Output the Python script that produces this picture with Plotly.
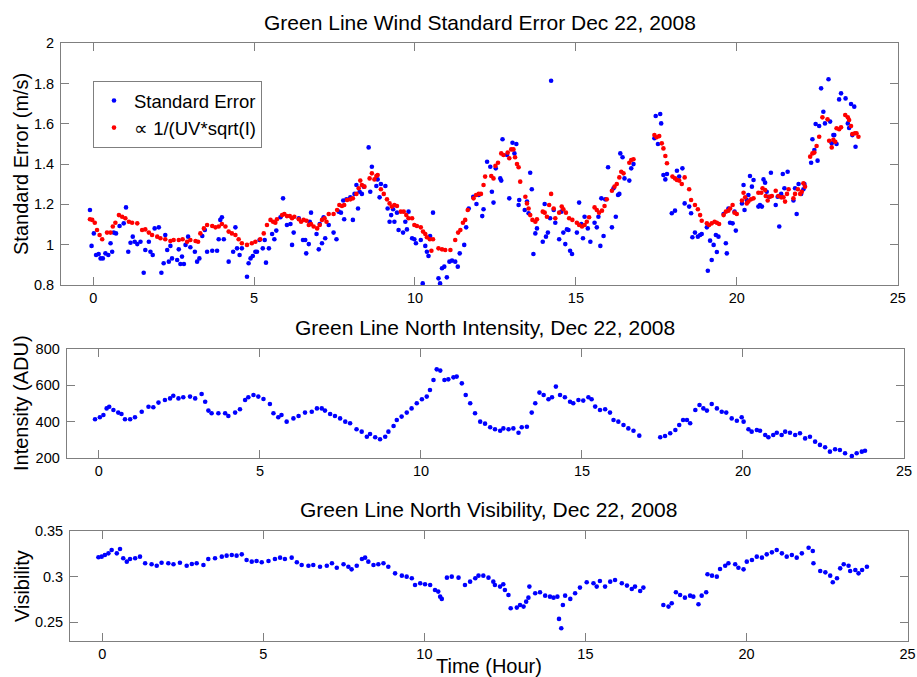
import plotly.graph_objects as go

# ---------------- data ----------------
se_hour = [-0.10, -0.05, 0.02, 0.09, 0.17, 0.23, 0.30, 0.38, 0.47, 0.54, 0.59, 0.64, 0.71, 0.82, 0.95, 1.02, 1.09, 1.16, 1.23, 1.29,
           1.37, 1.47, 1.57, 1.62, 1.73, 1.78, 1.85, 1.91, 2.04, 2.12, 2.19, 2.24, 2.30, 2.35, 2.40, 2.45, 2.61, 2.66, 2.71, 2.76,
           2.82, 2.87, 2.95, 3.02, 3.16, 3.23, 3.30, 3.39, 3.47, 3.54, 3.70, 3.85, 3.90, 3.95, 4.00, 4.06, 4.21, 4.35, 4.42, 4.47,
           4.55, 4.62, 4.78, 4.83, 4.89, 4.96, 5.04, 5.09, 5.17, 5.27, 5.33, 5.37, 5.46,
           5.56, 5.63, 5.69, 5.82, 5.90, 6.02, 6.13, 6.18, 6.23, 6.39, 6.52, 6.59, 6.62, 6.70, 6.73, 6.77, 6.94, 7.01, 7.04, 7.11,
           7.16, 7.21, 7.32, 7.47, 7.56, 7.63, 7.70, 7.77, 7.80, 7.87, 7.99, 8.07, 8.12, 8.18, 8.23, 8.28, 8.35, 8.41, 8.56, 8.61,
           8.66, 8.80, 8.84, 8.90, 8.94, 9.08, 9.15, 9.21, 9.26, 9.32, 9.36, 9.44, 9.49, 9.63, 9.70, 9.75, 9.80, 9.91, 9.98, 10.03,
           10.18, 10.24, 10.32, 10.37, 10.42, 10.47, 10.56, 10.73, 10.78, 10.84, 10.91, 10.99, 11.07, 11.15, 11.25, 11.33, 11.39,
           11.53, 11.59, 11.67, 11.81, 11.91, 11.98, 12.09, 12.13,
           12.24, 12.34, 12.39, 12.44, 12.51, 12.65, 12.68, 12.72, 12.86, 12.93, 13.03, 13.09, 13.15, 13.22, 13.24, 13.41, 13.48,
           13.53, 13.58, 13.63, 13.68, 13.74, 13.79, 13.97, 14.03, 14.07, 14.13, 14.20, 14.23, 14.31, 14.36, 14.48, 14.55, 14.61,
           14.67, 14.72, 14.77, 14.82, 14.88, 15.03, 15.10, 15.17, 15.22, 15.27, 15.37, 15.45, 15.58, 15.65, 15.70, 15.76, 15.79,
           15.86, 15.91, 16.00, 16.12, 16.17, 16.24, 16.31, 16.35, 16.38, 16.45, 16.51, 16.66, 16.72, 16.79,
           17.44, 17.48, 17.55, 17.62, 17.65, 17.72, 17.78, 17.83, 17.98, 18.08, 18.14, 18.21, 18.31, 18.38, 18.52, 18.58, 18.62,
           18.70, 18.79, 18.86, 18.91, 19.07, 19.10, 19.17, 19.22, 19.28, 19.35, 19.38, 19.43, 19.59, 19.66, 19.69, 19.74, 19.79,
           19.87, 19.93, 19.97, 20.16, 20.21, 20.24, 20.31, 20.36, 20.41, 20.47, 20.52, 20.67, 20.72, 20.78, 20.83, 20.88, 20.93,
           21.00, 21.06, 21.21, 21.27, 21.32, 21.38, 21.43, 21.48, 21.58, 21.76, 21.81, 21.86, 21.92, 22.00, 22.07, 22.10, 22.31,
           22.35, 22.41, 22.45, 22.51, 22.56, 22.62, 22.69, 22.74, 22.85, 22.90, 22.95, 23.00, 23.03, 23.10, 23.18, 23.24, 23.38,
           23.45, 23.49, 23.55, 23.59, 23.65, 23.69]
se_val = [1.172, 0.994, 1.056, 0.949, 0.954, 0.932, 0.932, 0.957, 0.949, 1.007, 0.965, 1.060, 1.056, 1.093, 1.106, 1.185, 0.965, 1.010, 1.040, 1.015,
          1.003, 1.015, 0.861, 0.974, 1.015, 0.965, 0.949, 1.081, 1.086, 0.861, 0.908, 1.048, 0.974, 0.916, 0.994, 0.932, 0.924, 0.977, 0.904, 0.941,
          0.904, 0.999, 1.040, 0.987, 0.965, 0.916, 0.932, 1.043, 1.073, 0.965, 0.970, 0.970, 1.027, 1.123, 1.136, 1.027, 0.916, 0.965, 1.086, 0.982,
          0.949, 0.982, 0.841, 0.908, 0.932, 0.944, 0.965, 0.965, 1.023, 0.982, 1.023, 0.911, 0.982,
          1.053, 1.027, 1.070, 1.136, 1.230, 1.098, 1.103, 0.999, 1.060, 1.131, 1.023, 1.023, 0.957, 1.003, 1.114, 1.159, 1.053, 0.977, 1.103, 1.007,
          1.136, 1.032, 1.098, 1.060, 1.027, 1.164, 1.159, 1.219, 1.126, 1.225, 1.235, 1.123, 1.252, 1.296, 1.180, 1.263, 1.252, 1.288, 1.483, 1.263,
          1.387, 1.291, 1.324, 1.235, 1.301, 1.291, 1.180, 1.114, 1.147, 1.176, 1.114, 1.159, 1.073, 1.060, 1.114, 1.076, 1.164, 1.032, 1.027, 1.007,
          1.023, 0.808, 0.994, 0.965, 0.944, 1.043, 1.159, 0.833, 0.808, 0.883, 0.891, 0.838, 0.916, 0.921, 0.916, 0.891, 0.957,
          0.999, 1.086, 1.180, 1.238, 1.202, 1.247, 1.142, 1.176,
          1.412, 1.387, 1.263, 1.209, 1.379, 1.329, 1.318, 1.523, 1.445, 1.230, 1.506, 1.453, 1.500, 1.197, 1.222, 1.172, 1.214,
          1.156, 1.357, 1.275, 0.954, 1.056, 1.081, 1.015, 1.202, 1.040, 1.060, 1.131, 1.814, 1.172, 1.109, 1.027, 1.164, 1.060,
          1.003, 1.076, 1.073, 0.970, 0.954, 1.060, 1.209, 1.103, 1.032, 1.139, 1.081, 1.015, 1.109, 1.086, 1.139, 0.994, 1.230,
          1.043, 1.225, 1.384, 1.086, 1.280, 1.139, 1.247, 1.252, 1.453, 1.434, 1.329, 1.318, 1.379, 1.400,
          1.528, 1.639, 1.500, 1.649, 1.602, 1.346, 1.324, 1.351, 1.156, 1.169, 1.367, 1.338, 1.379, 1.205, 1.189, 1.156, 1.037,
          1.060, 1.040, 1.048, 1.053, 1.086, 0.871, 1.020, 0.924, 0.999, 1.048, 0.964, 1.040, 1.152, 1.007, 0.957, 1.180, 1.109,
          1.106, 1.164, 1.070, 1.205, 1.296, 1.172, 1.222, 1.247, 1.341, 1.288, 1.321, 1.189, 1.197, 1.189, 1.324, 1.308, 1.263,
          1.238, 1.357, 1.197, 1.238, 1.090, 1.252, 1.351, 1.280, 1.362, 1.219, 1.280, 1.152, 1.301, 1.252, 1.275, 1.301, 1.407,
          1.523, 1.470, 1.599, 1.417, 1.589, 1.776, 1.660, 1.602, 1.821, 1.611, 1.503, 1.544, 1.544, 1.500, 1.721, 1.751, 1.726,
          1.602, 1.579, 1.698, 1.544, 1.685, 1.486]

prop_hour = [-0.10, -0.03, 0.05, 0.12, 0.20, 0.28, 0.43, 0.54, 0.61, 0.69, 0.80, 0.90, 1.00, 1.11, 1.21, 1.37, 1.52, 1.62, 1.73, 1.83,
             1.99, 2.09, 2.24, 2.40, 2.50, 2.66, 2.78, 2.92, 3.02, 3.18, 3.26, 3.33, 3.44, 3.54, 3.70, 3.80, 3.90, 4.00, 4.11, 4.21,
             4.31, 4.42, 4.52, 4.62, 4.78, 4.93, 5.04, 5.19, 5.30, 5.40,
             5.51, 5.59, 5.66, 5.71, 5.87, 5.94, 6.02, 6.11, 6.18, 6.25, 6.39, 6.46, 6.54, 6.63, 6.70, 6.77, 6.85, 6.96, 7.04, 7.11,
             7.19, 7.25, 7.32, 7.47, 7.58, 7.65, 7.73, 7.80, 7.89, 7.99, 8.07, 8.18, 8.25, 8.30, 8.35, 8.43, 8.59, 8.66, 8.74, 8.80,
             8.84, 8.94, 9.03, 9.13, 9.21, 9.28, 9.36, 9.44, 9.56, 9.65, 9.73, 9.80, 9.91, 9.98, 10.06, 10.18, 10.25, 10.32, 10.37,
             10.46, 10.51, 10.56, 10.73, 10.84, 10.94, 11.10, 11.25, 11.34, 11.41, 11.49, 11.56, 11.64, 11.82, 11.90, 11.98, 12.05, 12.13,
             12.18, 12.37, 12.44, 12.50, 12.58, 12.68, 12.75, 12.88, 12.93, 12.99, 13.06, 13.11, 13.17, 13.22, 13.27, 13.43, 13.48,
             13.53, 13.58, 13.65, 13.74, 13.79, 13.97, 14.03, 14.10, 14.17, 14.23, 14.31, 14.36, 14.48, 14.56, 14.61, 14.69, 14.79,
             14.89, 15.03, 15.10, 15.19, 15.27, 15.34, 15.41, 15.58, 15.65, 15.72, 15.81, 15.89, 15.96, 16.12, 16.20, 16.27, 16.35,
             16.41, 16.48, 16.66, 16.72, 16.79,
             17.44, 17.51, 17.59, 17.67, 17.72, 17.78, 17.83, 18.00, 18.08, 18.14, 18.21, 18.29, 18.38, 18.52, 18.58,
             18.70, 18.79, 18.86, 18.91, 19.07, 19.14, 19.22, 19.31, 19.38, 19.45, 19.59, 19.66, 19.74, 19.79, 19.87, 19.93, 20.00,
             20.16, 20.21, 20.26, 20.31, 20.36, 20.44, 20.52, 20.67, 20.76, 20.80, 20.88, 20.90, 20.96, 21.03, 21.09, 21.21, 21.29,
             21.38, 21.45, 21.50, 21.56, 21.61, 21.76, 21.81, 21.90, 21.97, 22.02, 22.07, 22.12, 22.28, 22.35, 22.41, 22.48, 22.56,
             22.66, 22.82, 22.87, 22.95, 23.00, 23.06, 23.10, 23.18, 23.24, 23.37, 23.45, 23.49, 23.55, 23.59, 23.67, 23.72, 23.78]
prop_val = [1.126, 1.123, 1.109, 1.073, 1.048, 1.027, 1.060, 1.060, 1.090, 1.109, 1.147, 1.139, 1.131, 1.114, 1.109, 1.106, 1.073, 1.076, 1.060, 1.048,
            1.040, 1.032, 1.027, 1.018, 1.023, 1.023, 1.027, 1.015, 1.023, 1.018, 1.015, 1.056, 1.081, 1.098, 1.093, 1.086, 1.090, 1.103, 1.090, 1.065,
            1.056, 1.048, 1.027, 1.007, 0.999, 1.007, 1.015, 1.027, 1.056, 1.098,
            1.123, 1.114, 1.109, 1.126, 1.147, 1.152, 1.142, 1.142, 1.131, 1.139, 1.126, 1.114, 1.123, 1.119, 1.098, 1.103, 1.090, 1.081, 1.098, 1.123,
            1.131, 1.114, 1.152, 1.152, 1.172, 1.197, 1.192, 1.197, 1.222, 1.225, 1.230, 1.252, 1.280, 1.318, 1.296, 1.288, 1.329, 1.354, 1.324, 1.341,
            1.346, 1.275, 1.252, 1.225, 1.205, 1.189, 1.197, 1.192, 1.164, 1.164, 1.147, 1.131, 1.131, 1.098, 1.093, 1.086, 1.065, 1.053, 1.037,
            1.027, 0.970, 1.027, 0.982, 0.977, 0.974, 0.974, 1.023, 1.060, 1.073, 1.109, 1.123, 1.172, 1.230, 1.247, 1.252, 1.252, 1.296,
            1.338, 1.341, 1.329, 1.391, 1.407, 1.453, 1.445, 1.457, 1.429, 1.473, 1.473, 1.434, 1.400, 1.384, 1.313, 1.238, 1.205,
            1.180, 1.147, 1.123, 1.114, 1.126, 1.164, 1.159, 1.139, 1.197, 1.252, 1.180, 1.131, 1.159, 1.189, 1.176, 1.159, 1.131,
            1.123, 1.109, 1.098, 1.090, 1.098, 1.114, 1.136, 1.185, 1.172, 1.159, 1.169, 1.192, 1.225, 1.268, 1.288, 1.301, 1.334,
            1.362, 1.354, 1.407, 1.420, 1.424,
            1.544, 1.533, 1.539, 1.503, 1.478, 1.440, 1.404, 1.338, 1.329, 1.321, 1.318, 1.301, 1.334, 1.275, 1.222,
            1.197, 1.176, 1.147, 1.119, 1.106, 1.098, 1.106, 1.114, 1.109, 1.103, 1.147, 1.164, 1.169, 1.180, 1.197, 1.159, 1.152,
            1.219, 1.258, 1.235, 1.205, 1.214, 1.225, 1.230, 1.258, 1.258, 1.280, 1.271, 1.242, 1.219, 1.238, 1.242, 1.268, 1.242,
            1.235, 1.235, 1.214, 1.252, 1.275, 1.230, 1.252, 1.275, 1.252, 1.263, 1.305, 1.288, 1.437, 1.453, 1.457, 1.490, 1.536,
            1.632, 1.622, 1.516, 1.483, 1.520, 1.511, 1.578, 1.573, 1.583, 1.644, 1.632, 1.619, 1.589, 1.549, 1.553, 1.553, 1.536]

int_hour = [-0.12, 0.03, 0.14, 0.24, 0.32, 0.45, 0.60, 0.70, 0.81, 0.97, 1.12, 1.33, 1.54, 1.69, 1.85, 2.05, 2.21, 2.31, 2.47, 2.62,
            2.83, 2.99, 3.19, 3.30, 3.40, 3.50, 3.71, 3.92, 4.02, 4.23, 4.38, 4.54, 4.64, 4.80, 4.95, 5.11, 5.31, 5.42, 5.57, 5.67,
            5.83, 6.04, 6.20, 6.40, 6.61, 6.77, 6.92, 7.02, 7.18, 7.33, 7.49, 7.65, 7.80, 8.00, 8.16, 8.32, 8.42, 8.58, 8.73, 8.89,
            8.99, 9.15, 9.25, 9.40, 9.56, 9.71, 9.87, 10.03, 10.18, 10.28, 10.39, 10.49, 10.60, 10.73, 10.85, 11.01, 11.11, 11.27,
            11.39, 11.53, 11.68, 11.84, 11.99, 12.15, 12.30, 12.46, 12.56, 12.72, 12.87, 13.03, 13.13, 13.29, 13.44, 13.55, 13.68,
            13.81, 13.96, 14.07, 14.19, 14.32, 14.47, 14.63, 14.73, 14.89, 15.04, 15.20, 15.30, 15.41, 15.56, 15.72, 15.87, 15.98,
            16.13, 16.29, 16.44, 16.60, 16.78,
            17.43, 17.58, 17.74, 17.90, 18.02, 18.14, 18.26, 18.36, 18.52, 18.65, 18.77, 18.88, 19.03, 19.19, 19.34, 19.48, 19.65,
            19.81, 19.96, 20.02, 20.17, 20.27, 20.43, 20.53, 20.69, 20.79, 20.94, 21.05, 21.20, 21.31, 21.46, 21.62, 21.77, 21.93,
            22.08, 22.24, 22.39, 22.55, 22.70, 22.86, 23.01, 23.17, 23.38, 23.53, 23.69, 23.79]
int_val = [413, 424, 437, 473, 482, 464, 450, 442, 413, 413, 424, 455, 482, 479, 505, 519, 528, 543, 528, 534,
           538, 528, 552, 510, 461, 446, 446, 446, 431, 450, 468, 519, 534, 547, 538, 525, 497, 446, 424, 437,
           400, 418, 431, 450, 455, 473, 473, 461, 442, 431, 418, 400, 391, 358, 345, 317, 332, 314, 303, 317,
           345, 376, 409, 428, 450, 473, 501, 523, 538, 574, 629, 688, 681, 629, 633, 644, 648, 611,
           547, 501, 446, 400, 389, 369, 358, 350, 363, 358, 363, 339, 369, 372, 450, 501, 560,
           547, 523, 534, 593, 547, 534, 510, 501, 519, 516, 534, 523, 483, 464, 468, 450, 409,
           400, 382, 363, 350, 323,
           314, 321, 336, 354, 382, 409, 409, 391, 464, 492, 473, 461, 497, 473, 455, 450, 418,
           405, 424, 400, 358, 345, 354, 350, 327, 314, 327, 339, 327, 345, 339, 327, 336, 308,
           317, 290, 272, 259, 235, 248, 244, 226, 211, 226, 235, 240]

vis_hour = [-0.12, -0.02, 0.08, 0.19, 0.29, 0.45, 0.55, 0.65, 0.76, 0.86, 1.02, 1.17, 1.33, 1.53, 1.69, 1.84, 2.05, 2.21, 2.41, 2.62,
            2.78, 2.93, 3.14, 3.29, 3.50, 3.71, 3.86, 4.02, 4.17, 4.33, 4.48, 4.64, 4.79, 4.95, 5.16, 5.36, 5.52, 5.67, 5.88, 6.04,
            6.19, 6.40, 6.55, 6.76, 6.97, 7.13, 7.28, 7.49, 7.64, 7.74, 7.90, 8.06, 8.16, 8.26, 8.42, 8.57, 8.73, 8.88, 9.09, 9.30,
            9.45, 9.61, 9.71, 9.87, 10.02, 10.18, 10.33, 10.43, 10.49, 10.54, 10.70, 10.85, 11.06, 11.26, 11.42, 11.58, 11.68,
            11.83, 11.99, 12.14, 12.19, 12.35, 12.45, 12.50, 12.61, 12.68, 12.87, 12.97, 13.08, 13.16, 13.23, 13.26, 13.44, 13.59,
            13.75, 13.90, 14.01, 14.13, 14.18, 14.25, 14.30, 14.37, 14.53, 14.68, 14.83, 15.04, 15.25, 15.35, 15.45, 15.61, 15.77,
            15.92, 16.13, 16.29, 16.44, 16.54, 16.70, 16.80,
            17.42, 17.58, 17.68, 17.81, 17.94, 18.09, 18.25, 18.35, 18.51, 18.61, 18.75, 18.79, 18.93, 19.08, 19.18, 19.34, 19.44,
            19.65, 19.75, 19.91, 20.01, 20.17, 20.32, 20.48, 20.63, 20.79, 20.94, 21.10, 21.25, 21.41, 21.56, 21.72, 21.93, 22.06,
            22.08, 22.29, 22.45, 22.60, 22.68, 22.81, 22.91, 23.02, 23.17, 23.22, 23.38, 23.48, 23.59, 23.74]
vis_val = [0.3212, 0.3219, 0.3237, 0.3255, 0.3292, 0.3255, 0.3303, 0.3201, 0.3164, 0.3193, 0.3201, 0.3219, 0.3146, 0.3135, 0.3120, 0.3153, 0.3146, 0.3135, 0.3153, 0.3120,
           0.3139, 0.3146, 0.3128, 0.3193, 0.3201, 0.3219, 0.3230, 0.3237, 0.3230, 0.3244, 0.3182, 0.3164, 0.3171, 0.3157, 0.3171, 0.3193, 0.3208, 0.3193, 0.3208, 0.3157,
           0.3128, 0.3120, 0.3128, 0.3109, 0.3120, 0.3146, 0.3098, 0.3135, 0.3109, 0.3080, 0.3120, 0.3193, 0.3208, 0.3164, 0.3128, 0.3135, 0.3146, 0.3109, 0.3036, 0.3011,
           0.3000, 0.2982, 0.2909, 0.2927, 0.2916, 0.2909, 0.2854, 0.2836, 0.2781, 0.2756, 0.2989, 0.3000, 0.2989, 0.2909, 0.2945, 0.2982, 0.3011,
           0.3011, 0.2989, 0.2945, 0.2909, 0.2891, 0.2916, 0.2854, 0.2799, 0.2654, 0.2661, 0.2690, 0.2672, 0.2726, 0.2770, 0.2891, 0.2818, 0.2829,
           0.2792, 0.2781, 0.2770, 0.2781, 0.2537, 0.2435, 0.2690, 0.2792, 0.2756, 0.2818, 0.2880, 0.2938, 0.2927, 0.2891, 0.2953, 0.2891, 0.2945,
           0.2964, 0.2927, 0.2902, 0.2865, 0.2891, 0.2843, 0.2880,
           0.2690, 0.2672, 0.2708, 0.2829, 0.2799, 0.2770, 0.2792, 0.2781, 0.2697, 0.2792, 0.2829, 0.3026, 0.3011, 0.3000, 0.3084, 0.3120, 0.3146,
           0.3135, 0.3098, 0.3080, 0.3164, 0.3182, 0.3219, 0.3208, 0.3244, 0.3266, 0.3292, 0.3255, 0.3219, 0.3237, 0.3208, 0.3255, 0.3317, 0.3281,
           0.3146, 0.3062, 0.3047, 0.3011, 0.2938, 0.2982, 0.3091, 0.3135, 0.3120, 0.3062, 0.3073, 0.3036, 0.3073, 0.3109]

x_ticks = [0, 5, 10, 15, 20, 25]
se_ticks = [0.8, 1.0, 1.2, 1.4, 1.6, 1.8, 2.0]
se_tick_text = ["0.8", "1", "1.2", "1.4", "1.6", "1.8", "2"]
int_ticks = [200, 400, 600, 800]
vis_ticks = [0.25, 0.30, 0.35]
vis_tick_text = ["0.25", "0.3", "0.35"]

# ---------------- figure ----------------
W, H = 917, 677
FONT = "Liberation Sans, Arial, Helvetica, sans-serif"
AX = "#7f7f7f"
BLUE = "#0000ff"
RED = "#ff0000"
MS = 4.6


def fx(px):
    return px / W


def fy(py):
    return 1 - py / H


fig = go.Figure()
fig.add_trace(go.Scatter(x=se_hour, y=se_val, mode="markers", name="Standard Error",
                         marker=dict(color=BLUE, size=MS, line=dict(width=0)), xaxis="x", yaxis="y"))
fig.add_trace(go.Scatter(x=prop_hour, y=prop_val, mode="markers", name="\u221d 1/(UV*sqrt(I)",
                         marker=dict(color=RED, size=MS, line=dict(width=0)), xaxis="x", yaxis="y"))
fig.add_trace(go.Scatter(x=int_hour, y=int_val, mode="markers", showlegend=False,
                         marker=dict(color=BLUE, size=MS, line=dict(width=0)), xaxis="x2", yaxis="y2"))
fig.add_trace(go.Scatter(x=vis_hour, y=vis_val, mode="markers", showlegend=False,
                         marker=dict(color=BLUE, size=MS, line=dict(width=0)), xaxis="x3", yaxis="y3"))

common = dict(showline=True, linecolor=AX, linewidth=1, mirror="allticks", ticks="inside",
              ticklen=8, tickwidth=1, tickcolor=AX, showgrid=False, zeroline=False, automargin=False,
              tickfont=dict(family=FONT, size=14.5, color="black"))

xcommon = dict(common, range=[-1, 25], tickmode="array", tickvals=x_ticks,
               ticktext=[str(v) for v in x_ticks], ticklabelstandoff=0)

fig.update_layout(
    template="none",
    width=W, height=H,
    margin=dict(l=0, r=0, t=0, b=0, pad=0, autoexpand=False),
    paper_bgcolor="white", plot_bgcolor="white",
    font=dict(family=FONT, color="black"),
    showlegend=True,
    legend=dict(x=fx(93), y=fy(81), xanchor="left", yanchor="top",
                bordercolor=AX, borderwidth=1, bgcolor="white",
                font=dict(family=FONT, size=18.5, color="black"),
                itemsizing="trace", tracegroupgap=0),
    xaxis=dict(xcommon, domain=[fx(61), fx(897.7)], anchor="y"),
    yaxis=dict(common, domain=[fy(285), fy(43.2)], anchor="x", range=[0.8, 2.0],
               tickmode="array", tickvals=se_ticks, ticktext=se_tick_text, ticklabelstandoff=3),
    xaxis2=dict(xcommon, domain=[fx(66.7), fx(904)], anchor="y2"),
    yaxis2=dict(common, domain=[fy(458), fy(349)], anchor="x2", range=[200, 800],
                tickmode="array", tickvals=int_ticks, ticktext=[str(v) for v in int_ticks], ticklabelstandoff=3),
    xaxis3=dict(xcommon, domain=[fx(70.1), fx(907.5)], anchor="y3"),
    yaxis3=dict(common, domain=[fy(641), fy(531)], anchor="x3", range=[0.2295, 0.35],
                tickmode="array", tickvals=vis_ticks, ticktext=vis_tick_text, ticklabelstandoff=3),
)

annots = [
    dict(text="Green Line Wind Standard Error Dec 22, 2008", x=fx(479.5), y=fy(22), size=21, angle=0),
    dict(text="Green Line North Intensity, Dec 22, 2008", x=fx(485.4), y=fy(327), size=21, angle=0),
    dict(text="Green Line North Visibility, Dec 22, 2008", x=fx(488.8), y=fy(509), size=21, angle=0),
    dict(text="Standard Error (m/s)", x=fx(21), y=fy(164), size=20, angle=-90),
    dict(text="Intensity (ADU)", x=fx(21), y=fy(403), size=20, angle=-90),
    dict(text="Visibility", x=fx(22), y=fy(586), size=20, angle=-90),
    dict(text="Time (Hour)", x=fx(488.8), y=fy(666), size=20, angle=0),
]
for a in annots:
    fig.add_annotation(text=a["text"], x=a["x"], y=a["y"], xref="paper", yref="paper",
                       xanchor="center", yanchor="middle", showarrow=False, textangle=a["angle"],
                       font=dict(family=FONT, size=a["size"], color="black"))

fig.write_html("out.html",
               post_script="document.body.style.margin='0px';document.body.style.overflow='hidden';")
